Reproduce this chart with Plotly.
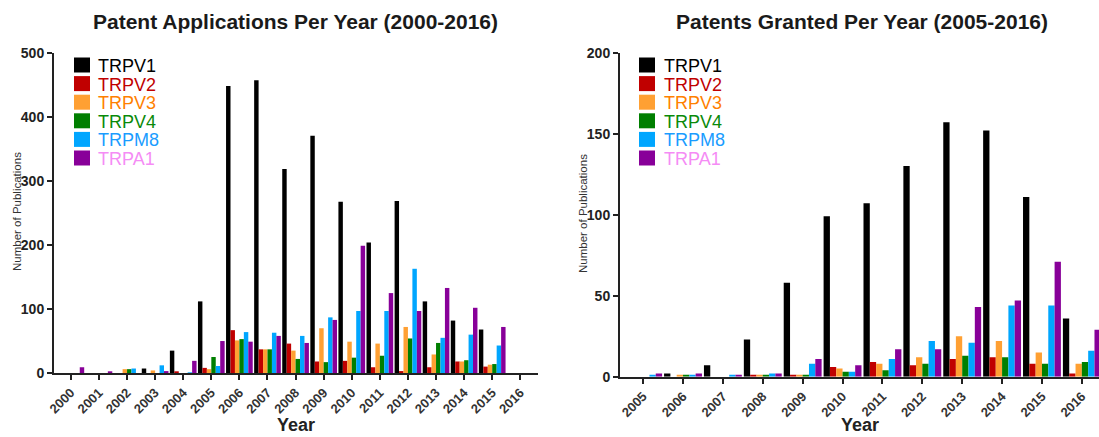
import plotly.graph_objects as go

# ---------------- data ----------------
series = ["TRPV1", "TRPV2", "TRPV3", "TRPV4", "TRPM8", "TRPA1"]

years_app = ["2000", "2001", "2002", "2003", "2004", "2005", "2006", "2007", "2008",
             "2009", "2010", "2011", "2012", "2013", "2014", "2015", "2016"]
app_trpv1 = [0, 0, 0, 7, 35, 112, 449, 458, 319, 371, 268, 204, 269, 112, 82, 68, 0]
app_trpv2 = [0, 0, 0, 0, 2, 8, 67, 37, 46, 18, 19, 9, 3, 9, 18, 10, 0]
app_trpv3 = [0, 0, 6, 4, 0, 6, 51, 37, 35, 70, 49, 46, 72, 29, 18, 13, 0]
app_trpv4 = [0, 0, 6, 0, 0, 25, 53, 37, 22, 17, 24, 27, 54, 47, 20, 14, 0]
app_trpm8 = [0, 0, 7, 12, 1, 11, 64, 63, 58, 87, 97, 97, 163, 55, 60, 43, 0]
app_trpa1 = [9, 2, 0, 3, 19, 50, 49, 58, 47, 83, 199, 125, 97, 133, 102, 72, 0]

years_grant = ["2005", "2006", "2007", "2008", "2009", "2010", "2011", "2012",
               "2013", "2014", "2015", "2016"]
gr_trpv1 = [0, 2, 7, 23, 58, 99, 107, 130, 157, 152, 111, 36]
gr_trpv2 = [0, 0, 0, 1, 1, 6, 9, 7, 11, 12, 8, 2]
gr_trpv3 = [0, 1, 0, 1, 1, 5, 8, 12, 25, 22, 15, 8]
gr_trpv4 = [0, 1, 0, 1, 1, 3, 4, 8, 13, 12, 8, 9]
gr_trpm8 = [1, 1, 1, 2, 8, 3, 11, 22, 21, 44, 44, 16]
gr_trpa1 = [2, 2, 1, 2, 11, 7, 17, 17, 43, 47, 71, 29]

# ---------------- styles ----------------
bar_colors = ["#000000", "#c00000", "#ffa033", "#007f00", "#00a6ff", "#880099"]
text_colors = ["#000000", "#c00000", "#ff8000", "#0a8a0a", "#1a9cff", "#f58cf5"]

W, H = 1099, 437
FONT = "Arial, Liberation Sans, Helvetica, sans-serif"


def px(x):
    return x / W


def py(y):
    return 1 - y / H


app_sets = [app_trpv1, app_trpv2, app_trpv3, app_trpv4, app_trpm8, app_trpa1]
gr_sets = [gr_trpv1, gr_trpv2, gr_trpv3, gr_trpv4, gr_trpm8, gr_trpa1]

fig = go.Figure()
for name, vals, col in zip(series, app_sets, bar_colors):
    fig.add_trace(go.Bar(x=years_app, y=vals, name=name, marker_color=col,
                         marker_line_width=0, xaxis="x", yaxis="y",
                         showlegend=False))
for name, vals, col in zip(series, gr_sets, bar_colors):
    fig.add_trace(go.Bar(x=years_grant, y=vals, name=name, marker_color=col,
                         marker_line_width=0, xaxis="x2", yaxis="y2",
                         showlegend=False))

axis_common = dict(showline=True, linewidth=2, linecolor="#222", ticks="outside",
                   ticklen=5, tickwidth=1.5, tickcolor="#222", showgrid=False,
                   zeroline=False, automargin=False)
xtick_font = dict(family=FONT, size=13, color="#333", weight="bold")
ytick_font = dict(family=FONT, size=14, color="#222", weight="bold")

fig.update_layout(
    width=W, height=H,
    autosize=False,
    margin=dict(l=0, r=0, t=0, b=0, pad=0, autoexpand=False),
    paper_bgcolor="white", plot_bgcolor="white",
    barmode="group", bargap=0.05, bargroupgap=0,
    xaxis=dict(domain=[px(54), px(538)], anchor="y", type="category",
               range=[-0.6, 16.63], tickangle=-45, tickfont=xtick_font,
               **axis_common),
    yaxis=dict(domain=[py(373), py(53.3)], anchor="x", range=[0, 500],
               tickvals=[0, 100, 200, 300, 400, 500], tickfont=ytick_font,
               **axis_common),
    xaxis2=dict(domain=[px(620), 1.0], anchor="y2", type="category",
                range=[-0.58, 11.43], tickangle=-45, tickfont=xtick_font,
                **axis_common),
    yaxis2=dict(domain=[py(376.7), py(52.7)], anchor="x2", range=[0, 200],
                tickvals=[0, 50, 100, 150, 200], tickfont=ytick_font,
                **axis_common),
)

annotations = []
title_font = dict(family=FONT, size=21, color="#1a1a1a", weight="bold")
annotations.append(dict(text="Patent Applications Per Year (2000-2016)", x=px(295), y=py(22),
                        xref="paper", yref="paper", xanchor="center", yanchor="middle",
                        showarrow=False, font=title_font))
annotations.append(dict(text="Patents Granted Per Year (2005-2016)", x=px(862), y=py(22),
                        xref="paper", yref="paper", xanchor="center", yanchor="middle",
                        showarrow=False, font=title_font))
for xc in (296, 860):
    annotations.append(dict(text="Year", x=px(xc), y=py(425), xref="paper", yref="paper",
                            xanchor="center", yanchor="middle", showarrow=False,
                            font=dict(family=FONT, size=18, color="#222", weight="bold")))
for xc, yc in ((17, 212), (583, 214)):
    annotations.append(dict(text="Number of Publications", x=px(xc), y=py(yc),
                            xref="paper", yref="paper", xanchor="center", yanchor="middle",
                            showarrow=False, textangle=-90,
                            font=dict(family=FONT, size=11.5, color="#333")))

shapes = []
row_y = [65, 83.6, 102.2, 120.8, 139.4, 158]
for sq_x, tx in ((74, 96), (639, 662)):
    for i, name in enumerate(series):
        yc = row_y[i]
        shapes.append(dict(type="rect", xref="paper", yref="paper",
                           x0=px(sq_x), x1=px(sq_x + 16), y0=py(yc + 7.5), y1=py(yc - 7.5),
                           fillcolor=bar_colors[i], line=dict(width=0)))
        annotations.append(dict(text=name, x=px(tx), y=py(yc + 1), xref="paper", yref="paper",
                                xanchor="left", yanchor="middle", showarrow=False,
                                font=dict(family=FONT, size=18, color=text_colors[i])))

fig.update_layout(annotations=annotations, shapes=shapes)

fig.write_html("out.html", config={"displayModeBar": False},
               post_script="document.body.style.margin='0';")
